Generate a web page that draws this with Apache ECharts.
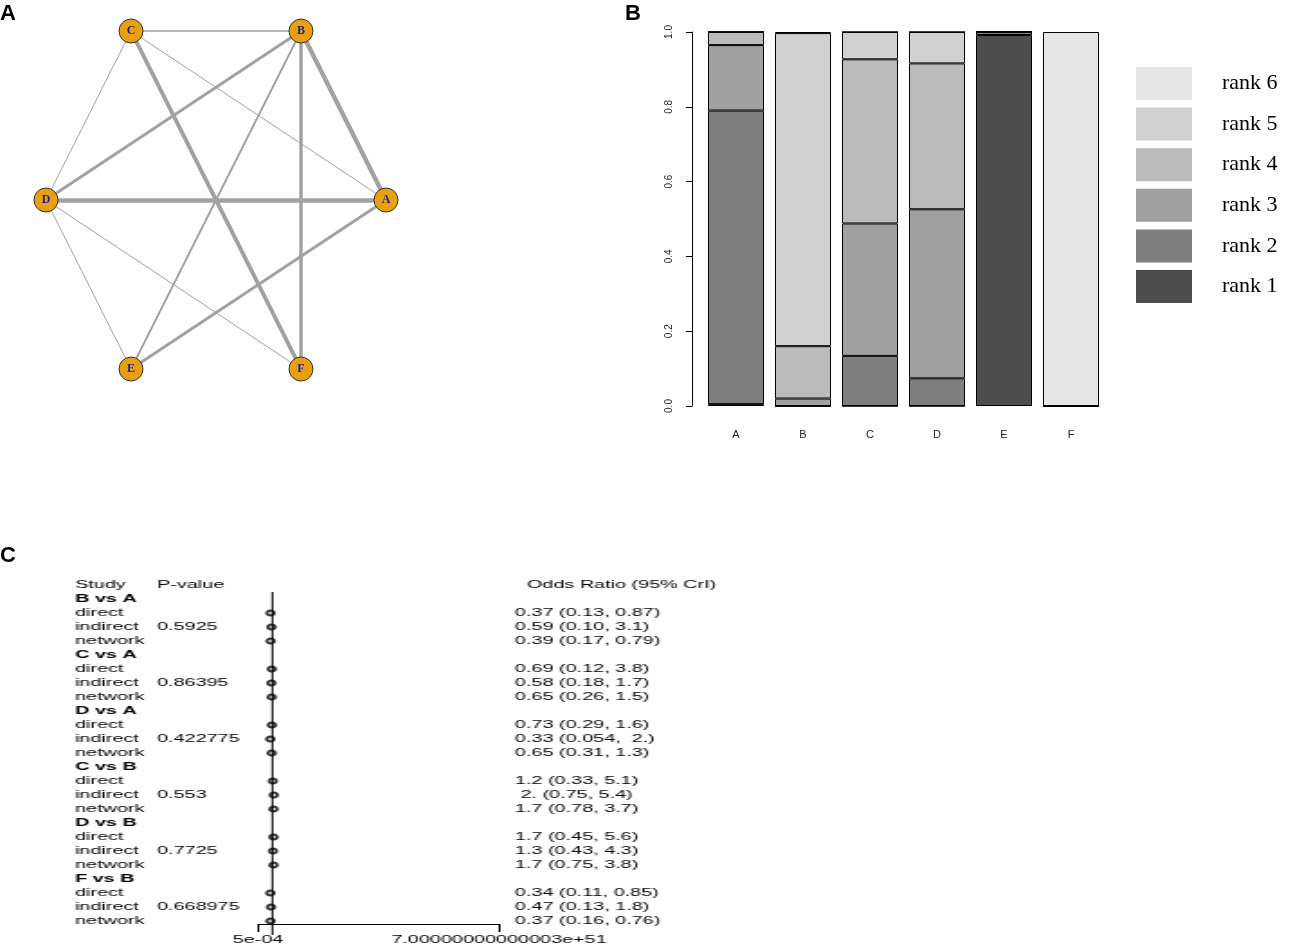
<!DOCTYPE html>
<html><head><meta charset="utf-8">
<script src="https://cdn.jsdelivr.net/npm/echarts@6/dist/echarts.min.js"></script>
<style>
html,body{margin:0;padding:0;background:#fff;overflow:hidden;width:1298px;height:951px}
#main{position:absolute;left:0;top:0;width:1298px;height:951px}
#forest{position:absolute;left:0;top:560px;width:721px;height:391px;transform:scaleX(1.8);transform-origin:0 0}
</style></head>
<body><div id="main"></div><div id="forest"></div>
<script>
// ---------- Panel A: network ----------
const nodeNames = ['A', 'B', 'C', 'D', 'E', 'F'];
const edgeList = [['C','B'],['C','A'],['C','D'],['C','F'],['B','D'],['B','E'],['B','F'],['B','A'],['D','A'],['D','E'],['D','F'],['E','A']];
const edgeStudies = [3, 2, 2, 8, 6, 4, 7, 9, 9, 2, 2, 6];

// ---------- Panel B: rank probabilities ----------
const categories = ['A', 'B', 'C', 'D', 'E', 'F'];
const rank1 = [0.005, 0, 0, 0, 0.992, 0];
const rank2 = [0.785, 0, 0.134, 0.074, 0.008, 0];
const rank3 = [0.175, 0.02, 0.354, 0.452, 0, 0];
const rank4 = [0.035, 0.14, 0.439, 0.39, 0, 0];
const rank5 = [0, 0.837, 0.073, 0.084, 0, 0];
const rank6 = [0, 0.003, 0, 0, 0, 1.0];
const rankNames = ['rank 1', 'rank 2', 'rank 3', 'rank 4', 'rank 5', 'rank 6'];

// ---------- Panel C: node-split forest ----------
const forestHeaders = ['Study', 'P-value', 'Odds Ratio (95% CrI)'];
const comparisons = ['B vs A', 'C vs A', 'D vs A', 'C vs B', 'D vs B', 'F vs B'];
const methods = ['direct', 'indirect', 'network'];
const pValues = ['0.5925', '0.86395', '0.422775', '0.553', '0.7725', '0.668975'];
const orEst = [[0.37, 0.59, 0.39], [0.69, 0.58, 0.65], [0.73, 0.33, 0.65], [1.2, 2.0, 1.7], [1.7, 1.3, 1.7], [0.34, 0.47, 0.37]];
const orLow = [[0.13, 0.10, 0.17], [0.12, 0.18, 0.26], [0.29, 0.054, 0.31], [0.33, 0.75, 0.78], [0.45, 0.43, 0.75], [0.11, 0.13, 0.16]];
const orHigh = [[0.87, 3.1, 0.79], [3.8, 1.7, 1.5], [1.6, 2.0, 1.3], [5.1, 5.4, 3.7], [5.6, 4.3, 3.8], [0.85, 1.8, 0.76]];
const orLabels = [
  ['0.37 (0.13, 0.87)', '0.59 (0.10, 3.1)', '0.39 (0.17, 0.79)'],
  ['0.69 (0.12, 3.8)', '0.58 (0.18, 1.7)', '0.65 (0.26, 1.5)'],
  ['0.73 (0.29, 1.6)', '0.33 (0.054,  2.)', '0.65 (0.31, 1.3)'],
  ['1.2 (0.33, 5.1)', ' 2. (0.75, 5.4)', '1.7 (0.78, 3.7)'],
  ['1.7 (0.45, 5.6)', '1.3 (0.43, 4.3)', '1.7 (0.75, 3.8)'],
  ['0.34 (0.11, 0.85)', '0.47 (0.13, 1.8)', '0.37 (0.16, 0.76)']
];
const xTickValues = [5e-4, 7.00000000000003e51];
const xTickLabels = ['5e-04', '7.00000000000003e+51'];

// ===== chart 1 =====
const n = nodeNames.length;
const rawX = nodeNames.map((_, i) => Math.cos(2 * Math.PI * i / n));
const rawY = nodeNames.map((_, i) => Math.sin(2 * Math.PI * i / n));
const mx = Math.max(...rawX.map(Math.abs)), my = Math.max(...rawY.map(Math.abs));
const nodes = nodeNames.map((nm, i) => ({ name: nm, value: [rawX[i] / mx, rawY[i] / my] }));
const links = edgeList.map((e, i) => ({ source: e[0], target: e[1], lineStyle: { width: edgeStudies[i] * 0.5 } }));

const rankValues = [rank1, rank2, rank3, rank4, rank5, rank6];
const rankColors = ['#4d4d4d', '#7f7f7f', '#a0a0a0', '#bbbbbb', '#d1d1d1', '#e6e6e6'];

const chart1 = echarts.init(document.getElementById('main'), null, { renderer: 'canvas' });
chart1.setOption({
  animation: false,
  backgroundColor: '#fff',
  textStyle: { fontFamily: 'Liberation Sans' },
  title: [
    { text: 'A', left: 0, top: 3, padding: 0, textStyle: { fontSize: 22, fontWeight: 'bold', color: '#000', fontFamily: 'Liberation Sans' } },
    { text: 'B', left: 625, top: 3, padding: 0, textStyle: { fontSize: 22, fontWeight: 'bold', color: '#000', fontFamily: 'Liberation Sans' } },
    { text: 'C', left: 0, top: 545, padding: 0, textStyle: { fontSize: 22, fontWeight: 'bold', color: '#000', fontFamily: 'Liberation Sans' } }
  ],
  grid: [
    { left: 46, top: 31, width: 340, height: 338 },
    { left: 702.5, top: 32, width: 402, height: 374 }
  ],
  xAxis: [
    { type: 'value', gridIndex: 0, min: -1, max: 1, show: false },
    { type: 'category', gridIndex: 1, data: categories, axisLine: { show: false }, axisTick: { show: false },
      axisLabel: { margin: 23, fontSize: 11, color: '#222', fontFamily: 'Liberation Sans' } }
  ],
  yAxis: [
    { type: 'value', gridIndex: 0, min: -1, max: 1, show: false },
    { type: 'value', gridIndex: 1, min: 0, max: 1, interval: 0.2, offset: 10.5,
      axisLine: { show: true, lineStyle: { color: '#000', width: 1 } },
      axisTick: { show: true, length: 6, lineStyle: { color: '#000' } },
      splitLine: { show: false },
      axisLabel: { rotate: 90, margin: 18, fontSize: 10, color: '#222', formatter: v => v.toFixed(1) } }
  ],
  legend: {
    orient: 'vertical', left: 1136, top: 67, padding: 0,
    itemWidth: 56, itemHeight: 33, itemGap: 7.6, icon: 'rect',
    data: rankNames.slice().reverse(),
    itemStyle: { borderWidth: 0 },
    textStyle: { fontFamily: 'Liberation Serif', fontSize: 22, color: '#000', padding: [0, 0, 0, 25] },
    selectedMode: false
  },
  series: [
    {
      type: 'graph', coordinateSystem: 'cartesian2d', xAxisIndex: 0, yAxisIndex: 0, layout: 'none',
      symbolSize: 24, silent: true,
      data: nodes, links: links,
      lineStyle: { color: '#a2a2a2', opacity: 1, curveness: 0 },
      itemStyle: { color: '#E8A010', borderColor: '#333', borderWidth: 1 },
      label: { show: true, position: 'inside', color: '#1e1e9a', fontFamily: 'Liberation Serif', fontWeight: 'bold', fontSize: 12 }
    }
  ].concat(rankNames.map((nm, k) => ({
    type: 'bar', name: nm, stack: 'rank', xAxisIndex: 1, yAxisIndex: 1, barWidth: 56,
    data: rankValues[k], silent: true,
    itemStyle: { color: rankColors[k], borderColor: '#000', borderWidth: 1 }
  })))
});

// ===== chart 2 (panel C) =====
const rowKeys = [], leftLabels = [], rightLabels = [], points = [], ciData = [];
rowKeys.push('header');
leftLabels.push('{n|' + forestHeaders[0] + '}{p|' + forestHeaders[1] + '}');
rightLabels.push('{o|' + forestHeaders[2] + '}');
comparisons.forEach((c, g) => {
  rowKeys.push(c);
  leftLabels.push('{b|' + c + '}');
  rightLabels.push('');
  methods.forEach((m, j) => {
    const row = rowKeys.length;
    rowKeys.push(c + ' ' + m);
    leftLabels.push('{n|' + m + '}' + (j === 1 ? '{p|' + pValues[g] + '}' : ''));
    rightLabels.push('{v|' + orLabels[g][j] + '}');
    points.push([Math.log10(orEst[g][j]), row]);
    ciData.push([Math.log10(orLow[g][j]), Math.log10(orHigh[g][j]), row]);
  });
});
const xmin = Math.log10(xTickValues[0]), xmax = Math.log10(xTickValues[1]);
const S = 1.8;
const fs = 11, ff = 'Liberation Sans', fc = '#000';
const richStyles = {
  n: { width: (157 - 75) / S, fontSize: fs, fontFamily: ff, color: fc },
  p: { fontSize: fs, fontFamily: ff, color: fc },
  b: { fontSize: fs, fontFamily: ff, color: fc, fontWeight: 'bold' },
  o: { fontSize: fs, fontFamily: ff, color: fc, padding: [0, 0, 0, 12 / S] },
  v: { fontSize: fs, fontFamily: ff, color: fc }
};
const chart2 = echarts.init(document.getElementById('forest'), null, { renderer: 'canvas' });
chart2.setOption({
  animation: false,
  textStyle: { fontFamily: ff },
  grid: [
    { left: 258 / S, width: (499 - 258) / S, top: 25, height: 336 },
    { left: 258 / S, width: (499 - 258) / S, top: 32, height: 343 }
  ],
  xAxis: [
    { type: 'value', gridIndex: 0, min: xmin, max: xmax, position: 'bottom', offset: 3,
      splitLine: { show: false },
      axisLine: { show: true, lineStyle: { color: '#000', width: 1 } },
      axisTick: { show: true, length: 8, customValues: xTickValues.map(Math.log10), lineStyle: { color: '#000' } },
      axisLabel: { margin: 10, fontSize: fs, color: fc, customValues: xTickValues.map(Math.log10),
        formatter: v => (v < 0 ? xTickLabels[0] : xTickLabels[1]) } },
    { type: 'value', gridIndex: 1, min: xmin, max: xmax, show: false }
  ],
  yAxis: [
    { type: 'category', gridIndex: 0, data: rowKeys, inverse: true, boundaryGap: false, position: 'left',
      axisLine: { show: false }, axisTick: { show: false }, splitLine: { show: false },
      axisLabel: { interval: 0, align: 'left', margin: (258 - 75) / S, formatter: (v, i) => leftLabels[i], rich: richStyles } },
    { type: 'category', gridIndex: 0, data: rowKeys, inverse: true, boundaryGap: false, position: 'right',
      axisLine: { show: false }, axisTick: { show: false }, splitLine: { show: false },
      axisLabel: { interval: 0, align: 'left', margin: (515 - 499) / S, formatter: (v, i) => rightLabels[i], rich: richStyles } },
    { type: 'value', gridIndex: 1, min: 0, max: 1, show: false }
  ],
  series: [
    { type: 'line', xAxisIndex: 1, yAxisIndex: 2, data: [[0, 0], [0, 1]], symbol: 'none', silent: true,
      lineStyle: { color: '#000', width: 1 } },
    { type: 'custom', xAxisIndex: 0, yAxisIndex: 0, data: ciData, encode: { x: [0, 1], y: 2 }, silent: true,
      renderItem: (params, api) => {
        const a = api.coord([api.value(0), api.value(2)]);
        const b = api.coord([api.value(1), api.value(2)]);
        return { type: 'line', shape: { x1: a[0], y1: a[1], x2: b[0], y2: b[1] }, style: { stroke: '#000', lineWidth: 1 } };
      } },
    { type: 'scatter', xAxisIndex: 0, yAxisIndex: 0, data: points, symbol: 'emptyCircle', symbolSize: [4, 5], silent: true,
      itemStyle: { color: '#000', borderColor: '#000', borderWidth: 1 } }
  ]
});
</script>
</body></html>
